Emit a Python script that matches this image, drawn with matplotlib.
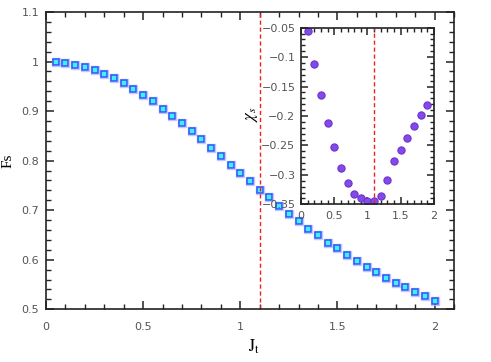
import numpy as np
import matplotlib
matplotlib.use("Agg")
import matplotlib.pyplot as plt
from matplotlib.ticker import MultipleLocator

plt.rcParams['mathtext.fontset'] = 'stix'

# main panel: Fs vs Jt
jt = [0.05, 0.10, 0.15, 0.20, 0.25, 0.30, 0.35, 0.40, 0.45, 0.50,
      0.55, 0.60, 0.65, 0.70, 0.75, 0.80, 0.85, 0.90, 0.95, 1.00,
      1.05, 1.10, 1.15, 1.20, 1.25, 1.30, 1.35, 1.40, 1.45, 1.50,
      1.55, 1.60, 1.65, 1.70, 1.75, 1.80, 1.85, 1.90, 1.95, 2.00]
fs = [1.000, 0.998, 0.994, 0.989, 0.983, 0.975, 0.966, 0.957, 0.945, 0.932,
      0.920, 0.905, 0.891, 0.875, 0.859, 0.843, 0.826, 0.809, 0.792, 0.775,
      0.758, 0.741, 0.726, 0.709, 0.693, 0.678, 0.663, 0.649, 0.634, 0.623,
      0.610, 0.598, 0.586, 0.575, 0.564, 0.554, 0.544, 0.534, 0.526, 0.517]

# inset: chi_s vs Jt
jt_in = [0.1, 0.2, 0.3, 0.4, 0.5, 0.6, 0.7, 0.8, 0.9, 1.0,
         1.1, 1.2, 1.3, 1.4, 1.5, 1.6, 1.7, 1.8, 1.9]
chi = [-0.0556, -0.1116, -0.1643, -0.2118, -0.2530, -0.2888, -0.3137, -0.3318, -0.3390, -0.3437,
       -0.3448, -0.3363, -0.3086, -0.2764, -0.2571, -0.2368, -0.2164, -0.1982, -0.1818]

jc = 1.1

def style(ax, lab=8):
    ax.tick_params(which='both', direction='in', top=True, right=True,
                   labelcolor='#555555', labelsize=lab, color='#222222')
    ax.tick_params(which='major', length=6, width=1.1)
    ax.tick_params(which='minor', length=3.5, width=1.0)
    for s in ax.spines.values():
        s.set_linewidth(1.2)
        s.set_color('#222222')

fig = plt.figure(figsize=(4.91, 3.62), dpi=100)
ax = fig.add_axes([0.0937, 0.1456, 0.8309, 0.8213])
ax.plot(jt, fs, 's', ms=6.3, mfc='none', mec='#b4b8ff', mew=1.0, alpha=0.8)
ax.plot(jt, fs, 's', ms=4.8, mfc='#3ff0ff', mec='#2f55f5', mew=1.1)
ax.axvline(jc, color='#ee2222', ls='--', lw=1, dashes=(3, 2))
ax.set_xlim(0, 2.1)
ax.set_ylim(0.5, 1.1)
ax.xaxis.set_major_locator(MultipleLocator(0.5))
ax.xaxis.set_minor_locator(MultipleLocator(0.1))
ax.yaxis.set_major_locator(MultipleLocator(0.1))
ax.yaxis.set_minor_locator(MultipleLocator(0.02))
ax.set_xticks([0, 0.5, 1, 1.5, 2])
ax.set_xticklabels(['0', '0.5', '1', '1.5', '2'])
ax.set_yticks([0.5, 0.6, 0.7, 0.8, 0.9, 1.0, 1.1])
ax.set_yticklabels(['0.5', '0.6', '0.7', '0.8', '0.9', '1', '1.1'])
style(ax)
ax.tick_params(axis='x', pad=9)
ax.tick_params(axis='y', pad=5)
ax.set_xlabel(r'$\mathrm{J_t}$', fontsize=12)
ax.xaxis.set_label_coords(0.51, -0.095)
ax.set_ylabel('Fs', family='Liberation Serif', fontsize=11)
ax.yaxis.set_label_coords(-0.076, 0.5)

ins = fig.add_axes([0.613, 0.4356, 0.2709, 0.4879])
ins.plot(jt_in, chi, 'o', ms=5.2, mfc='#8548ea', mec='#6a35cc', mew=0.8)
ins.axvline(jc, color='#ee2222', ls='--', lw=1, dashes=(3, 2))
ins.set_xlim(0, 2)
ins.set_ylim(-0.35, -0.05)
ins.set_xticks([0, 0.5, 1, 1.5, 2])
ins.set_xticklabels(['0', '0.5', '1', '1.5', '2'])
ins.xaxis.set_minor_locator(MultipleLocator(0.1))
ins.set_yticks([-0.35, -0.3, -0.25, -0.2, -0.15, -0.1, -0.05])
ins.set_yticklabels(['\u22120.35', '\u22120.3', '\u22120.25', '\u22120.2', '\u22120.15', '\u22120.1', '\u22120.05'])
ins.yaxis.set_minor_locator(MultipleLocator(0.01))
style(ins)
ins.tick_params(which='major', length=5)
ins.tick_params(which='minor', length=3)
ins.tick_params(axis='x', pad=5)
ins.tick_params(axis='y', pad=4)
ins.set_ylabel(r'$\chi_s$', fontsize=12)
ins.yaxis.set_label_coords(-0.31, 0.51)

fig.savefig('out.png', dpi=100)
